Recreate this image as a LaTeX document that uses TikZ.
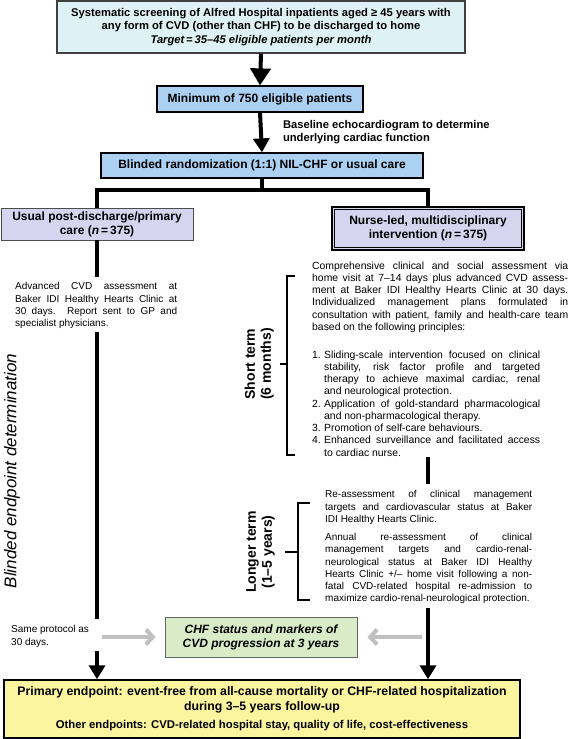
\documentclass[tikz,border=0pt]{standalone}
\usepackage{fontspec}
\setmainfont{Liberation Sans}
\usetikzlibrary{arrows.meta}

\definecolor{screenblue}{RGB}{222,241,245}
\definecolor{boxblue}{RGB}{172,208,242}
\definecolor{lavender}{RGB}{213,213,240}
\definecolor{palegreen}{RGB}{216,236,200}
\definecolor{paleyellow}{RGB}{251,245,160}
\definecolor{arrowgray}{RGB}{192,192,192}

\newcommand{\listitem}[2]{\noindent\hspace*{-12pt}\makebox[12pt][l]{#1}#2\par}

\begin{document}
\begin{tikzpicture}[x=1pt,y=-1pt,
	box/.style={draw,line width=1.2pt,inner sep=0pt,align=center,font=\fontsize{12}{14}\selectfont\bfseries},
	shadebox/.style={box,top color=boxblue,middle color=boxblue!15,bottom color=boxblue},
	armbox/.style={box,draw=black!70,line width=0.8pt,fill=lavender},
	txt/.style={inner sep=0pt,align=justify,anchor=north west,font=\fontsize{10}{12.25}\selectfont},
	term/.style={rotate=90,anchor=south,inner sep=0pt,align=center,font=\fontsize{14}{16}\selectfont\bfseries},
	flow/.style={line width=4pt},
	arr/.style={flow,-{Triangle[length=14pt,width=16pt]}},
	sidearr/.style={line width=4pt,draw=arrowgray,-{Straight Barb[length=7pt,width=15pt]}},
	brace/.style={line width=2pt}]

	\useasboundingbox (0,0) rectangle (574,739);

	\node[box,draw=black!75,fill=screenblue,minimum width=408pt,minimum height=52pt,font=\fontsize{11.2}{13.5}\selectfont\bfseries] (screen) at (261,27) {Systematic screening of Alfred Hospital inpatients aged ≥ 45 years with\\any form of CVD (other than CHF) to be discharged to home\\\textit{Target\,=\,35–45 eligible patients per month}};
	\node[shadebox,minimum width=206pt,minimum height=26pt] (minimum) at (260,99) {Minimum of 750 eligible patients};
	\node[shadebox,minimum width=322pt,minimum height=25pt] (rand) at (262,165.5) {Blinded randomization (1:1) NIL-CHF or usual care};
	\coordinate (split) at (262,190);

	\node[armbox,minimum width=192pt,minimum height=32pt] (usual) at (97,224) {Usual post-discharge/primary\\care (\textit{n}\,=\,375)};
	\node[armbox,draw=black,line width=2.5pt,minimum width=192pt,minimum height=43pt] (nurse) at (428,228.5) {Nurse-led, multidisciplinary\\intervention (\textit{n}\,=\,375)};
	\draw[line width=0.8pt] ([shift={(4pt,-4pt)}]nurse.north west) rectangle ([shift={(-4pt,4pt)}]nurse.south east);

	\node[txt,text width=162pt] (adv) at (15,282.5) {Advanced CVD assessment at\linebreak Baker IDI Healthy Hearts Clinic at\linebreak 30 days. Report sent to GP and\linebreak specialist physicians.};
	\node[txt,align=left] (same) at (11,625.5) {Same protocol as\\30 days.};
	\node[rotate=90,inner sep=0pt,font=\fontsize{17}{20}\selectfont\itshape] (blind) at (12,471) {Blinded endpoint determination};

	\node[txt,text width=256pt,font=\fontsize{10.4}{12.25}\selectfont] (comp) at (312,261.5) {Comprehensive clinical and social assessment via\linebreak home visit at 7–14 days plus advanced CVD assess-\linebreak ment at Baker IDI Healthy Hearts Clinic at 30 days.\linebreak Individualized management plans formulated in\linebreak consultation with patient, family and health-care team\linebreak based on the following principles:};
	\node[txt,text width=216pt,font=\fontsize{10.4}{12.25}\selectfont] (princ) at (324,350.5) {%
		\listitem{1.}{Sliding-scale intervention focused on clinical\linebreak stability, risk factor profile and targeted\linebreak therapy to achieve maximal cardiac, renal\linebreak and neurological protection.}
		\listitem{2.}{Application of gold-standard pharmacological\linebreak and non-pharmacological therapy.}
		\listitem{3.}{Promotion of self-care behaviours.}
		\listitem{4.}{Enhanced surveillance and facilitated access\linebreak to cardiac nurse.}};
	\draw[brace] (295,276) -| (287,455) -- (295,455);
	\draw[brace] (287,364) -- (280,364) coordinate (shorttick);
	\node[term] (short) at ([xshift=-6pt]shorttick) {Short term\\(6 months)};

	\node[txt,text width=207pt] (longer) at (325,490.5) {Re-assessment of clinical management\linebreak targets and cardiovascular status at Baker\linebreak IDI Healthy Hearts Clinic.\par\vspace{6pt}
		Annual re-assessment of clinical\linebreak management targets and cardio-renal-\linebreak neurological status at Baker IDI Healthy\linebreak Hearts Clinic +/– home visit following a non-\linebreak fatal CVD-related hospital re-admission to\linebreak maximize cardio-renal-neurological protection.};
	\draw[brace] (310,503) -| (298,600) -- (310,600);
	\draw[brace] (298,552) -- (285,552) coordinate (longtick);
	\node[term] (long) at ([xshift=-10pt]longtick) {Longer term\\(1–5 years)};

	\node[box,draw=black!60,line width=0.8pt,fill=palegreen,minimum width=192pt,minimum height=40pt,font=\fontsize{12}{14}\selectfont\bfseries\itshape] (chf) at (261,637) {CHF status and markers of\\CVD progression at 3 years};
	\node[box,line width=1.5pt,fill=paleyellow,minimum width=516pt,minimum height=58pt,font=\fontsize{12.3}{15}\selectfont\bfseries] (primary) at (262,709) {Primary endpoint: event-free from all-cause mortality or CHF-related hospitalization\\during 3–5 years follow-up\\[3pt]{\fontsize{11.3}{13}\selectfont Other endpoints: CVD-related hospital stay, quality of life, cost-effectiveness}};

	\draw[arr,-{Triangle[length=17pt,width=20pt]}] (screen.south) -- (minimum.north);
	\draw[arr] (minimum.south) -- node[right=20pt,inner sep=0pt,align=left,font=\fontsize{11.2}{13}\selectfont\bfseries] (echo) {Baseline echocardiogram to determine\\underlying cardiac function} (rand.north);
	\draw[flow] (rand.south) -- (split);
	\draw[flow] (usual.north) |- (split) -| (nurse.north);

	\draw[flow,shorten >=6pt] (usual.south) -- (usual.south |- adv.north);
	\draw[flow,shorten <=3pt,shorten >=7pt] (usual.south |- adv.south) -- (usual.south |- same.north);
	\draw[arr,shorten <=4pt] (usual.south |- same.south) -- (usual.south |- primary.north);

	\draw[flow,shorten >=7pt] (nurse.south |- princ.south) -- (nurse.south |- longer.north);
	\draw[arr,shorten <=4pt] (nurse.south |- longer.south) -- (nurse.south |- primary.north);

	\draw[sidearr,shorten <=5pt,shorten >=9pt] (chf.west -| usual.south) -- (chf.west);
	\draw[sidearr,shorten <=6pt,shorten >=10pt] (chf.east -| nurse.south) -- (chf.east);
\end{tikzpicture}
\end{document}
